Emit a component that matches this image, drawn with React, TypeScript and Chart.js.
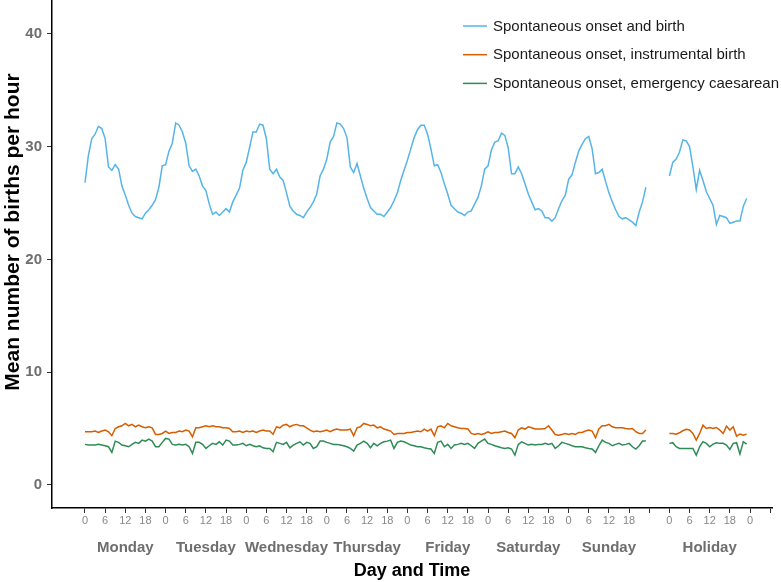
import React, { useEffect, useRef } from 'react';
import { Chart, registerables } from 'chart.js';

Chart.register(...registerables);

const seriesNames = [
  'Spontaneous onset and birth',
  'Spontaneous onset, instrumental birth',
  'Spontaneous onset, emergency caesarean',
];
const seriesColors = ['#56B4E9', '#D55E00', '#2E8B57'];

const dayNames = ['Monday', 'Tuesday', 'Wednesday', 'Thursday', 'Friday', 'Saturday', 'Sunday', 'Holiday'];
// hour (from Monday 0:00) at which the centre of each day label sits
const dayCentres = [12, 36, 60, 84, 108, 132, 156, 186];
const holidayStartHour = 174;
const gapHour = 170;

const hourTickLabels = [
  '0', '6', '12', '18', '0', '6', '12', '18', '0', '6', '12', '18', '0', '6', '12', '18',
  '0', '6', '12', '18', '0', '6', '12', '18', '0', '6', '12', '18', '',
  '0', '6', '12', '18', '0', '',
];
const yTickValues = [0, 10, 20, 30, 40];

// Monday 0:00 .. Sunday 23:00
const birthWeek = [
  26.8, 29.2, 30.7, 31.1, 31.8, 31.6, 30.7, 28.2, 27.9, 28.4, 28.0, 26.5, 25.7, 24.8, 24.1, 23.8, 23.7, 23.6, 24.1, 24.4, 24.8, 25.3, 26.4, 28.3,
  28.4, 29.6, 30.3, 32.1, 31.9, 31.3, 30.3, 28.3, 27.8, 28.0, 27.4, 26.5, 26.1, 24.9, 24.0, 24.2, 23.9, 24.2, 24.5, 24.2, 25.1, 25.7, 26.3, 27.9,
  28.6, 29.9, 31.3, 31.3, 32.0, 31.9, 30.7, 28.0, 27.6, 28.0, 27.3, 27.0, 25.9, 24.7, 24.3, 24.0, 23.9, 23.7, 24.2, 24.6, 25.1, 25.8, 27.4, 28.0,
  28.9, 30.4, 30.9, 32.1, 32.0, 31.6, 30.8, 28.2, 27.7, 28.5, 27.4, 26.3, 25.4, 24.6, 24.3, 24.0, 24.0, 23.8, 24.2, 24.6, 25.2, 25.9, 27.0, 27.9,
  28.8, 29.8, 30.8, 31.5, 31.9, 31.9, 31.1, 29.8, 28.3, 28.4, 27.7, 26.7, 25.8, 24.8, 24.5, 24.2, 24.1, 23.9, 24.2, 24.3, 24.9, 25.5, 26.5, 28.0,
  28.3, 29.7, 30.4, 30.5, 31.2, 31.0, 29.9, 27.6, 27.6, 28.2, 27.6, 26.7, 25.8, 25.1, 24.4, 24.5, 24.3, 23.7, 23.7, 23.4, 23.7, 24.5, 25.2, 25.7,
  27.1, 27.5, 28.6, 29.6, 30.2, 30.7, 30.9, 29.8, 27.6, 27.7, 28.0, 26.9, 25.9, 25.1, 24.4, 23.8, 23.6, 23.7, 23.5, 23.3, 23.0, 24.2, 25.1, 26.4,
];
const birthHoliday = [
  27.4, 28.6, 28.9, 29.5, 30.6, 30.5, 30.0, 28.2, 26.2, 27.9, 27.0, 26.0, 25.4, 24.8, 23.1, 23.9, 23.8, 23.7, 23.2, 23.3, 23.4, 23.4, 24.7, 25.4,
];

const instrumentalWeek = [
  4.72, 4.72, 4.72, 4.78, 4.66, 4.78, 4.87, 4.72, 4.37, 5.01, 5.16, 5.25, 5.46, 5.25, 5.37, 5.16, 5.31, 5.16, 5.07, 5.16, 5.07, 4.48, 4.48, 4.57,
  4.78, 4.57, 4.66, 4.66, 4.78, 4.72, 4.87, 4.78, 4.28, 5.07, 5.07, 5.16, 5.25, 5.16, 5.25, 5.16, 5.16, 5.07, 5.07, 5.01, 4.72, 4.72, 4.78, 4.66,
  4.78, 4.72, 4.78, 4.66, 4.78, 4.87, 4.78, 4.78, 4.50, 5.16, 5.07, 5.31, 5.37, 5.16, 5.31, 5.37, 5.25, 5.25, 5.07, 4.87, 4.72, 4.78, 4.72, 4.78,
  4.87, 4.72, 4.87, 4.96, 4.87, 4.87, 4.87, 4.96, 4.37, 5.07, 5.16, 5.46, 5.37, 5.25, 5.31, 5.07, 5.16, 4.96, 4.87, 4.78, 4.48, 4.57, 4.57, 4.57,
  4.66, 4.66, 4.72, 4.78, 4.72, 4.96, 4.78, 4.96, 4.37, 5.16, 5.25, 5.07, 5.46, 5.25, 5.16, 5.07, 5.01, 5.01, 4.96, 4.57, 4.48, 4.57, 4.48, 4.57,
  4.72, 4.57, 4.66, 4.66, 4.72, 4.78, 4.66, 4.57, 4.19, 4.87, 5.07, 4.96, 5.16, 5.07, 4.96, 4.96, 4.96, 5.01, 5.25, 4.87, 4.48, 4.42, 4.48, 4.57,
  4.48, 4.57, 4.48, 4.66, 4.66, 4.78, 4.87, 4.78, 4.19, 4.96, 5.25, 5.25, 5.37, 5.16, 5.07, 5.07, 5.07, 5.01, 4.96, 5.01, 4.72, 4.57, 4.57, 4.87,
];
const instrumentalHoliday = [
  4.57, 4.57, 4.51, 4.63, 4.81, 4.93, 4.87, 4.57, 3.98, 4.57, 5.31, 5.01, 5.10, 5.01, 5.10, 4.87, 4.57, 5.22, 4.87, 5.16, 4.34, 4.51, 4.42, 4.51,
];

const caesareanWeek = [
  3.60, 3.54, 3.54, 3.54, 3.60, 3.54, 3.48, 3.39, 2.89, 3.89, 3.78, 3.54, 3.48, 3.39, 3.60, 3.78, 3.69, 3.98, 3.89, 4.07, 3.89, 3.39, 3.39, 3.78,
  4.13, 4.07, 3.60, 3.54, 3.60, 3.54, 3.60, 3.39, 2.80, 3.78, 3.78, 3.60, 3.24, 3.48, 3.69, 3.60, 3.83, 3.54, 3.98, 3.89, 3.54, 3.54, 3.60, 3.69,
  3.48, 3.60, 3.48, 3.39, 3.48, 3.30, 3.24, 3.24, 2.95, 3.78, 3.69, 3.60, 3.78, 3.30, 3.54, 3.69, 3.83, 3.54, 3.78, 3.69, 3.24, 3.39, 3.89, 3.89,
  3.78, 3.69, 3.60, 3.60, 3.54, 3.48, 3.39, 3.24, 3.01, 3.54, 3.69, 3.89, 3.69, 3.30, 3.69, 3.48, 3.69, 3.83, 3.89, 3.98, 3.24, 3.78, 3.89, 3.83,
  3.69, 3.54, 3.48, 3.39, 3.39, 3.30, 3.24, 3.19, 2.80, 3.78, 3.89, 3.39, 3.60, 3.24, 3.54, 3.60, 3.69, 3.60, 3.69, 3.48, 3.24, 3.69, 3.89, 4.07,
  3.69, 3.60, 3.48, 3.39, 3.30, 3.24, 3.30, 3.19, 2.65, 3.60, 3.83, 3.69, 3.54, 3.60, 3.54, 3.60, 3.60, 3.69, 3.60, 3.69, 3.24, 3.48, 3.78, 3.69,
  3.60, 3.48, 3.39, 3.39, 3.39, 3.30, 3.24, 3.19, 2.89, 3.48, 3.98, 3.78, 3.69, 3.48, 3.60, 3.69, 3.54, 3.60, 3.69, 3.39, 3.19, 3.48, 3.89, 3.89,
];
const caesareanHoliday = [
  3.69, 3.75, 3.39, 3.24, 3.24, 3.24, 3.24, 3.24, 2.65, 3.39, 3.84, 3.69, 3.39, 3.63, 3.75, 3.69, 3.69, 3.54, 3.16, 3.69, 3.75, 2.74, 3.84, 3.63,
];

const FONT = '"Liberation Sans", Arial, Helvetica, sans-serif';

function toPoints(week: number[], holiday: number[]) {
  const pts: { x: number; y: number | null }[] = week.map((y, i) => ({ x: i, y }));
  pts.push({ x: gapHour, y: null });
  holiday.forEach((y, i) => pts.push({ x: holidayStartHour + i, y }));
  return pts;
}

const insideLegend = {
  id: 'insideLegend',
  afterDraw(chart: any) {
    const ctx = chart.ctx;
    ctx.save();
    chart.data.datasets.forEach((ds: any, i: number) => {
      const y = 26 + i * 28.7;
      ctx.strokeStyle = ds.borderColor;
      ctx.lineWidth = 1.5;
      ctx.beginPath();
      ctx.moveTo(463, y);
      ctx.lineTo(487, y);
      ctx.stroke();
      ctx.fillStyle = '#1a1a1a';
      ctx.font = `15px ${FONT}`;
      ctx.textAlign = 'left';
      ctx.textBaseline = 'middle';
      ctx.fillText(ds.label, 493, y + 0.5);
    });
    ctx.restore();
  },
};

const yTitle = {
  id: 'yTitle',
  afterDraw(chart: any) {
    const ctx = chart.ctx;
    ctx.save();
    ctx.translate(13, 232);
    ctx.rotate(-Math.PI / 2);
    ctx.fillStyle = '#000';
    ctx.font = `bold 21px ${FONT}`;
    ctx.textAlign = 'center';
    ctx.textBaseline = 'middle';
    ctx.fillText('Mean number of births per hour', 0, 0);
    ctx.restore();
  },
};

export default function App() {
  const ref = useRef<HTMLCanvasElement>(null);

  useEffect(() => {
    if (!ref.current) return;
    const weeks = [birthWeek, instrumentalWeek, caesareanWeek];
    const hols = [birthHoliday, instrumentalHoliday, caesareanHoliday];
    const chart = new Chart(ref.current, {
      type: 'line',
      data: {
        datasets: seriesNames.map((name, i) => ({
          label: name,
          data: toPoints(weeks[i], hols[i]),
          borderColor: seriesColors[i],
          backgroundColor: seriesColors[i],
          borderWidth: 1.5,
          pointRadius: 0,
          tension: 0,
          spanGaps: false,
        })),
      },
      options: {
        responsive: false,
        animation: false,
        layout: { padding: { left: 0, right: 9, top: 0, bottom: 0 } },
        plugins: { legend: { display: false }, tooltip: { enabled: false } },
        scales: {
          x: {
            type: 'linear',
            position: 'bottom',
            min: -9.825,
            max: 204.55,
            weight: 0,
            afterBuildTicks: (scale: any) => {
              scale.ticks = hourTickLabels.map((_, i) => ({ value: i * 6 }));
            },
            afterFit: (scale: any) => {
              scale.height = 22;
              scale.paddingLeft = 0;
              scale.paddingRight = 0;
            },
            grid: { display: true, drawOnChartArea: false, drawTicks: true, tickLength: 5, color: '#333', lineWidth: 1 },
            border: { display: true, color: '#000', width: 1.5 },
            ticks: {
              autoSkip: false,
              maxRotation: 0,
              minRotation: 0,
              padding: 1,
              color: '#888',
              font: { family: FONT, size: 11 },
              callback: (_v: any, i: number) => hourTickLabels[i],
            },
          },
          xDays: {
            type: 'linear',
            position: 'bottom',
            min: -9.825,
            max: 204.55,
            weight: 1,
            afterBuildTicks: (scale: any) => {
              scale.ticks = dayCentres.map((v) => ({ value: v }));
            },
            afterFit: (scale: any) => {
              scale.height = 52;
              scale.paddingLeft = 0;
              scale.paddingRight = 0;
            },
            grid: { display: false, drawTicks: false },
            border: { display: false },
            ticks: {
              autoSkip: false,
              maxRotation: 0,
              minRotation: 0,
              padding: 9,
              color: '#6e6e6e',
              font: { family: FONT, size: 15, weight: 'bold' },
              callback: (_v: any, i: number) => dayNames[i],
            },
            title: {
              display: true,
              text: 'Day and Time',
              color: '#000',
              font: { family: FONT, size: 18, weight: 'bold' },
              padding: { top: 0, bottom: 0 },
            },
          },
          y: {
            type: 'linear',
            position: 'left',
            min: -2.04,
            max: 43.0,
            afterBuildTicks: (scale: any) => {
              scale.ticks = yTickValues.map((v) => ({ value: v }));
            },
            afterFit: (scale: any) => {
              scale.width = 52;
              scale.paddingTop = 0;
              scale.paddingBottom = 0;
            },
            grid: { display: true, drawOnChartArea: false, drawTicks: true, tickLength: 5, color: '#333', lineWidth: 1 },
            border: { display: true, color: '#000', width: 1.5 },
            ticks: {
              padding: 5,
              color: '#6e6e6e',
              font: { family: FONT, size: 15, weight: 'bold' },
            },
          },
        },
      } as any,
      plugins: [insideLegend, yTitle],
    });
    return () => chart.destroy();
  }, []);

  return (
    <div style={{ position: 'absolute', left: 0, top: 0, width: 781, height: 582, background: '#fff' }}>
      <canvas ref={ref} width={781} height={582} style={{ display: 'block' }} />
    </div>
  );
}
